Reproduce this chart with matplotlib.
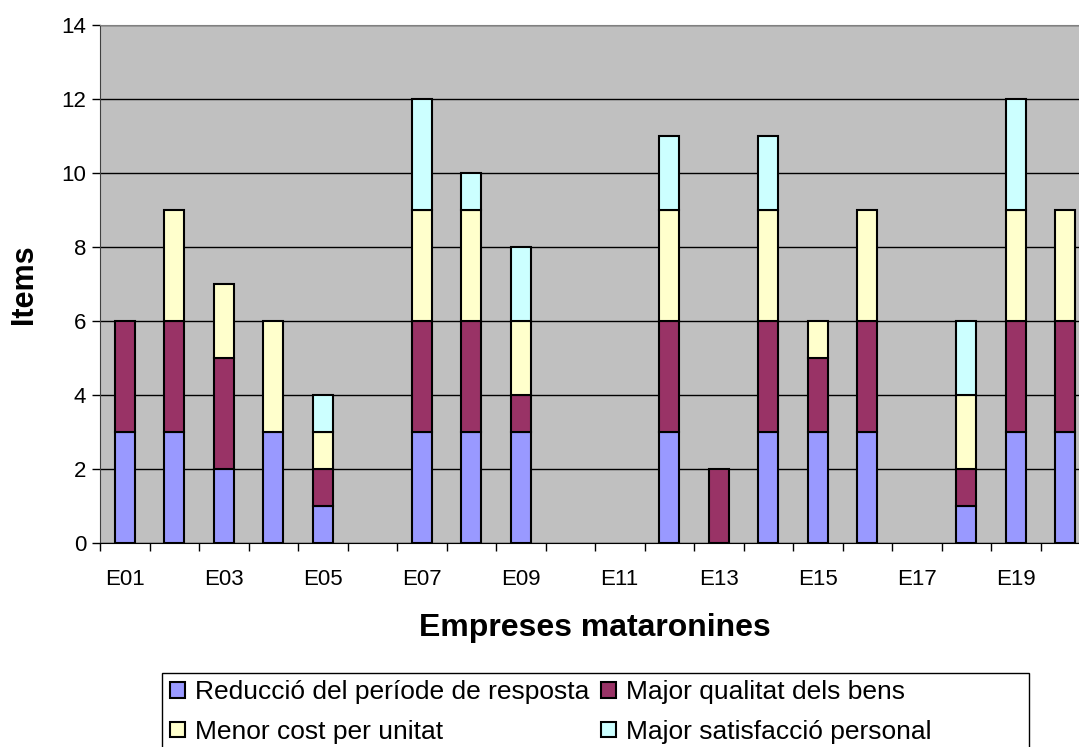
import matplotlib
matplotlib.use("Agg")
import matplotlib.pyplot as plt
from matplotlib.patches import Rectangle
import numpy as np

plt.rcParams['font.family'] = ['Liberation Sans', 'DejaVu Sans']

empreses = ["E%02d" % i for i in range(1, 21)]
reduccio = [3, 3, 2, 3, 1, 0, 3, 3, 3, 0, 0, 3, 0, 3, 3, 3, 0, 1, 3, 3]
qualitat = [3, 3, 3, 0, 1, 0, 3, 3, 1, 0, 0, 3, 2, 3, 2, 3, 0, 1, 3, 3]
cost = [0, 3, 2, 3, 1, 0, 3, 3, 2, 0, 0, 3, 0, 3, 1, 3, 0, 2, 3, 3]
satisfaccio = [0, 0, 0, 0, 1, 0, 3, 1, 2, 0, 0, 2, 0, 2, 0, 0, 0, 2, 3, 0]

series = [
    ("Reducció del període de resposta", reduccio, "#9999FF"),
    ("Major qualitat dels bens", qualitat, "#993366"),
    ("Menor cost per unitat", cost, "#FFFFCC"),
    ("Major satisfacció personal", satisfaccio, "#CCFFFF"),
]

W, H = 1079, 747
fig = plt.figure(figsize=(W / 100, H / 100), dpi=100)
ax = fig.add_axes([100/W, 1 - 543/H, 990/W, 518/H])
ax.set_facecolor("#C0C0C0")

x = np.arange(len(empreses))
bottom = np.zeros(len(empreses))
handles = []
for nom, vals, col in series:
    vals = np.array(vals, dtype=float)
    # zero values are not drawn (no flat line)
    h = ax.bar(x[vals > 0], vals[vals > 0], 0.4, bottom=bottom[vals > 0],
               color=col, edgecolor="black", linewidth=1.5, label=nom, zorder=3)
    handles.append(h)
    bottom += vals

ax.set_xlim(-0.5, len(empreses) - 0.5)
ax.set_ylim(0, 14)
ax.set_yticks(range(0, 15, 2))
ax.grid(axis="y", color="black", linewidth=1, zorder=1)

ax.set_xticks(x[::2])
ax.set_xticklabels(empreses[::2])
ax.set_xticks(np.arange(-0.5, len(empreses)), minor=True)
ax.tick_params(axis="x", which="major", length=0, pad=19, labelsize=16)
ax.tick_params(axis="x", which="minor", length=6, width=1, color="black")
ax.tick_params(axis="y", length=6, width=1, labelsize=16, pad=4)

for s in ["top", "right"]:
    ax.spines[s].set_color("#808080")
ax.spines["left"].set_color("#404040")
ax.spines["bottom"].set_color("black")

ax.set_ylabel("Items", fontsize=22, fontweight="bold", labelpad=16)
ax.set_xlabel("Empreses mataronines", fontsize=23, fontweight="bold", labelpad=16)

# legend box (wider than its entries, like the original)
fig.patches.append(Rectangle((162/W, -0.05), (1029 - 162)/W, 0.05 + (H - 673)/H,
                             transform=fig.transFigure, facecolor="white",
                             edgecolor="black", linewidth=1, zorder=0))

# row-major order as in the reference legend
order = [0, 2, 1, 3]
leg = fig.legend([handles[i] for i in order], [series[i][0] for i in order],
                 loc="upper left", bbox_to_anchor=(170/W, 1 - 680/H),
                 ncol=2, fontsize=19, frameon=False,
                 handlelength=0.55, handleheight=0.55,
                 handletextpad=0.4, columnspacing=0.45, borderpad=0.0,
                 labelspacing=0.6, borderaxespad=0)
for h in leg.legend_handles:
    h.set_linewidth(1.5)

fig.savefig("out.png", dpi=100)
